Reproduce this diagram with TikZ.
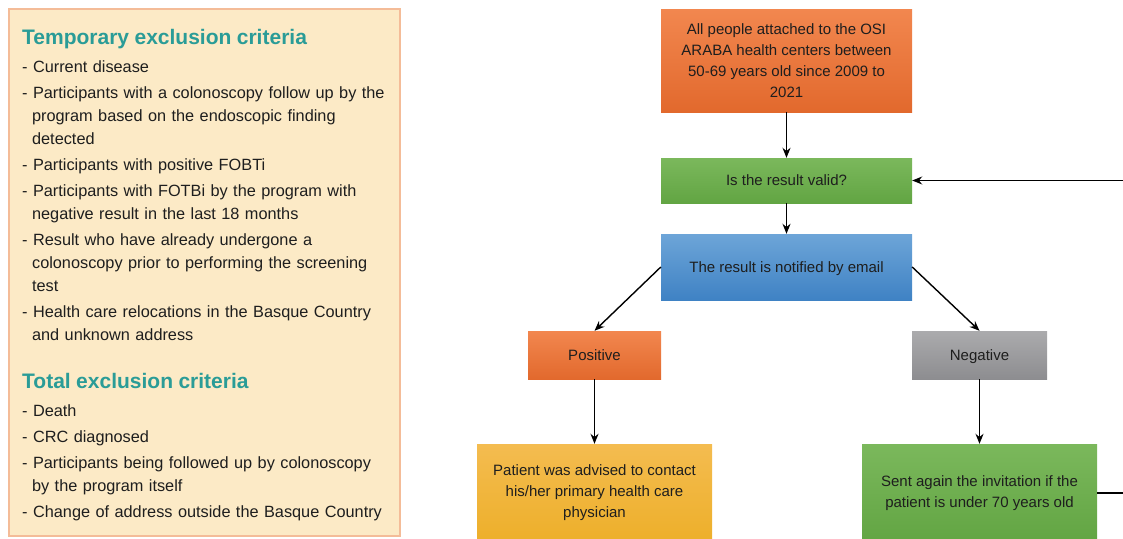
\documentclass[tikz,border=0pt]{standalone}
\usepackage{fontspec}
\setmainfont{Liberation Sans}
\usetikzlibrary{arrows.meta}

\definecolor{critteal}{HTML}{2A9C97}
\definecolor{panelfill}{HTML}{FCEAC6}
\definecolor{paneldraw}{HTML}{F4BC98}
\definecolor{boxtext}{HTML}{1E1E1E}
\definecolor{orangetop}{HTML}{F2874F}
\definecolor{orangebot}{HTML}{E2692D}
\definecolor{validtop}{HTML}{7BB85C}
\definecolor{validbot}{HTML}{62A543}
\definecolor{bluetop}{HTML}{6DA5D8}
\definecolor{bluebot}{HTML}{3F82C4}
\definecolor{graytop}{HTML}{ABABAD}
\definecolor{graybot}{HTML}{8D8D90}
\definecolor{yellowtop}{HTML}{F4BC50}
\definecolor{yellowbot}{HTML}{EDAF2A}

\newcommand\critem[1]{\par\noindent\hangindent=9.9pt\hangafter=1 -\ #1\par}

\begin{document}
\begin{tikzpicture}[x=1pt,y=-1pt,
  flowbox/.style={rectangle, inner sep=2pt, align=center, text=boxtext,
    font=\fontsize{15}{21}\selectfont},
  oneline/.style={text height=11pt, text depth=1pt},
  arrowline/.style={-{Stealth[length=10pt,width=8pt]}, line width=1.4pt}]
\useasboundingbox (0,0) rectangle (1123,538);
\clip (0,0) rectangle (1123,538);

% criteria panel
\draw[fill=panelfill, draw=paneldraw, line width=1.1pt] (9,9) rectangle (400,536);
\node[anchor=north west, inner sep=0pt, text width=375pt, text=boxtext,
  font=\fontsize{16.3}{23}\selectfont] (criteria) at (22,29.5) {%
  \raggedright\setlength{\parindent}{0pt}\setlength{\parskip}{3pt}%
  {\color{critteal}\fontsize{21}{23}\selectfont\bfseries Temporary exclusion criteria\par}
  \vspace{1.5pt}
  \critem{Current disease}
  \critem{Participants with a colonoscopy follow up by the\newline program based on the endoscopic finding\newline detected}
  \critem{Participants with positive FOBTi}
  \critem{Participants with FOTBi by the program with\newline negative result in the last 18 months}
  \critem{Result who have already undergone a\newline colonoscopy prior to performing the screening\newline test}
  \critem{Health care relocations in the Basque Country\newline and unknown address}
  \vspace{22.5pt}
  {\color{critteal}\fontsize{21}{23}\selectfont\bfseries Total exclusion criteria\par}
  \vspace{1.5pt}
  \critem{Death}
  \critem{CRC diagnosed}
  \critem{Participants being followed up by colonoscopy\newline by the program itself}
  \critem{Change of address outside the Basque Country}};

% flow chart
\node[flowbox, minimum width=251pt, minimum height=103pt, top color=orangetop, bottom color=orangebot]
  (people) at (786.5,60.5) {All people attached to the OSI\\ARABA health centers between\\50-69 years old since 2009 to\\2021};
\node[flowbox, oneline, minimum width=251pt, minimum height=45pt, top color=validtop, bottom color=validbot]
  (valid) at (786.5,180.5) {Is the result valid?};
\node[flowbox, oneline, minimum width=251pt, minimum height=66pt, top color=bluetop, bottom color=bluebot]
  (notified) at (786.5,267) {The result is notified by email};
\node[flowbox, oneline, minimum width=133pt, minimum height=48pt, top color=orangetop, bottom color=orangebot]
  (positive) at (594.5,355) {Positive};
\node[flowbox, oneline, minimum width=135pt, minimum height=48pt, top color=graytop, bottom color=graybot]
  (negative) at (979.5,355) {Negative};
\node[flowbox, minimum width=235pt, minimum height=98pt, top color=yellowtop, bottom color=yellowbot]
  (patient) at (594.5,493) {Patient was advised to contact\\his/her primary health care\\physician};
\node[flowbox, minimum width=235pt, minimum height=98pt, top color=validtop, bottom color=validbot]
  (sent) at (979.5,493) {Sent again the invitation if the\\patient is under 70 years old};
\coordinate (loopedge) at (1150,0);

\draw[arrowline] (people) -- (valid);
\draw[arrowline] (valid) -- (notified);
\draw[arrowline] (notified.west) -- (positive.north);
\draw[arrowline] (notified.east) -- (negative.north);
\draw[arrowline] (positive) -- (patient);
\draw[arrowline] (negative) -- (sent);
\draw[arrowline] (sent.east) -- (sent.east -| loopedge) |- (valid.east);

\end{tikzpicture}
\end{document}
